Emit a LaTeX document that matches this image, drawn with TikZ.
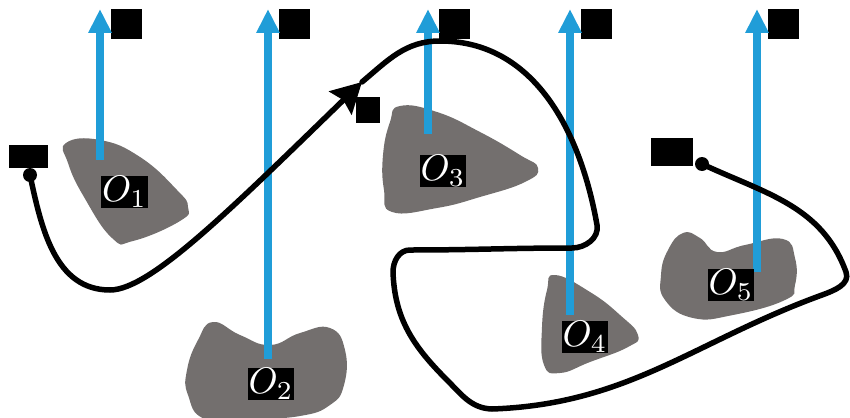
\documentclass[tikz,border=0pt]{standalone}
\usetikzlibrary{arrows.meta}
\definecolor{blobgray}{RGB}{115,111,110}
\definecolor{rayblue}{RGB}{32,157,216}
\newcommand{\obst}[1]{\scalebox{3.7}{$O_{#1}$}}

\begin{document}
\begin{tikzpicture}[x=1pt,y=1pt,
  obstacle/.style={fill=blobgray, draw=none},
  ray/.style={draw=rayblue, line width=8pt, -{Triangle[length=24pt,width=22pt]}},
  tag/.style={fill=black, inner sep=0pt, minimum width=31pt, minimum height=30pt},
  olabel/.style={fill=black, text=white, inner sep=1pt},
  route/.style={line width=5.5pt, line cap=round},
  dot/.style={circle, fill=black, inner sep=0pt, minimum size=14pt}]

\useasboundingbox (0,0) rectangle (850,-417);

% obstacles
\fill[obstacle] plot[smooth cycle, tension=0.8] coordinates {(66,-143) (100,-140) (140,-157) (177,-190) (188,-207) (180,-221) (133,-241) (112,-238) (84,-197) (68,-163)};
\fill[obstacle] plot[smooth cycle, tension=0.8] coordinates {(213,-322) (240,-335) (270,-345) (300,-333) (330,-328) (345,-350) (344,-385) (330,-405) (300,-416) (250,-419) (205,-419) (188,-395) (187,-370) (198,-340)};
\fill[obstacle] plot[smooth cycle, tension=0.8] coordinates {(400,-106) (437,-112) (480,-132) (520,-155) (538,-168) (525,-182) (480,-197) (437,-208) (392,-212) (384,-190) (383,-155) (390,-122)};
\fill[obstacle] plot[smooth cycle, tension=0.8] coordinates {(555,-275) (590,-292) (620,-315) (638,-335) (628,-347) (590,-362) (560,-373) (544,-365) (542,-327) (547,-290)};
\fill[obstacle] plot[smooth cycle, tension=0.8] coordinates {(683,-233) (700,-238) (717,-252) (745,-245) (783,-239) (795,-258) (795,-285) (785,-300) (733,-315) (693,-318) (665,-300) (661,-275) (668,-250)};

% ray ends
\foreach \i/\x/\y in {1/100/160, 2/268/359, 3/428/134, 4/570/315, 5/757/272} {
  \coordinate (b\i) at (\x,-\y);
  \coordinate (t\i) at (\x,-9);
  \node[tag] (k\i) at (\x+26.5,-24) {};
}
\foreach \i in {1,...,5} \draw[ray] (b\i) -- (t\i);

% obstacle labels
\node[olabel] (o1) at (124.5,-192) {\obst{1}};
\node[olabel] (o2) at (271,-384) {\obst{2}};
\node[olabel] (o3) at (443,-171) {\obst{3}};
\node[olabel] (o4) at (585,-337) {\obst{4}};
\node[olabel] (o5) at (731,-285) {\obst{5}};

% small tags near the route
\node[tag, minimum width=39pt, minimum height=23pt] (ks) at (28.5,-156.5) {};
\node[tag, minimum width=24pt, minimum height=26pt] (km) at (368,-110) {};
\node[tag, minimum width=42pt, minimum height=28pt] (ke) at (672,-152) {};

% route
\node[dot] (s) at (30,-175) {};
\node[dot] (e) at (702,-164) {};
\coordinate (m) at (362,-82);
\draw[route, -{Stealth[length=30pt,width=32pt,inset=4pt]}] (s.center) to[out=-78,in=180] (110,-290)
  .. controls (150,-290) and (230,-210) .. (m);
\draw[route] (m) to[out=40,in=180] (440,-41) to[out=0,in=100] (597,-225)
  to[out=-80,in=0] (572,-248) to[out=180,in=0] (410,-250)
  to[out=180,in=90] (393,-272) to[out=-88,in=135] (447,-380)
  to[out=-45,in=178] (492,-409) to[out=2,in=200] (822,-295)
  to[out=20,in=-70] (846,-272) to[out=110,in=-25] (e.center);
\end{tikzpicture}
\end{document}
